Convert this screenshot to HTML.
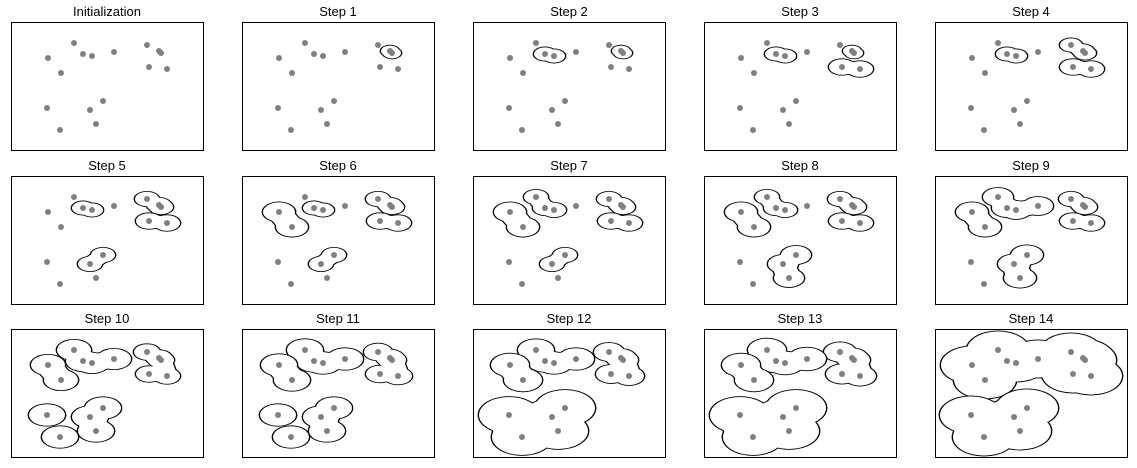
<!DOCTYPE html>
<html><head><meta charset="utf-8"><style>
body{margin:0;background:#fff;}
svg{display:block;font-family:"Liberation Sans","DejaVu Sans",sans-serif;}
</style></head><body>
<svg id="fig" width="1137" height="468" viewBox="0 0 1137 468"></svg>
<script>
// point coordinates (panel data units, 0..192 x 0..128)
const pointX = [37,63,72,81,103,136,148,150,138,156,50,36,79,92,49,85];
const pointY = [36,21,32,34,30,23,29,31,45,47,51,86,88,79,108,102];
const stepTitles = ["Initialization","Step 1","Step 2","Step 3","Step 4","Step 5","Step 6","Step 7","Step 8","Step 9","Step 10","Step 11","Step 12","Step 13","Step 14"];
// clusters per step: members, radius, connected
const stepClusters = [
 [],
 [[[6,7],9,1]],
 [[[6,7],9,1],[[2,3],11,1]],
 [[[6,7],9,1],[[2,3],11,1],[[8,9],13,1]],
 [[[5,6,7],11,1],[[8,9],13,1],[[2,3],11,1]],
 [[[5,6,7],12,1],[[8,9],13,1],[[2,3],11,1],[[12,13],12,1]],
 [[[5,6,7],12,1],[[8,9],13,1],[[2,3],11,1],[[12,13],12,1],[[0,10],16,1]],
 [[[5,6,7],12,1],[[8,9],13,1],[[1,2,3],12,1],[[12,13],12,1],[[0,10],16,1]],
 [[[5,6,7],12,1],[[8,9],13,1],[[1,2,3],12,1],[[12,13,15],15,1],[[0,10],16,1]],
 [[[5,6,7],12,1],[[8,9],13,1],[[1,2,3,4],15,1],[[12,13,15],16,1],[[0,10],16,1]],
 [[[5,6,7,8,9],13,1],[[1,2,3,4],17,1],[[0,10],17,1],[[12,13,15],18,1],[[11],18,0],[[14],18,0]],
 [[[5,6,7,8,9],14,1],[[1,2,3,4],18,1],[[0,10],18,1],[[12,13,15],18,1],[[11],18,0],[[14],18,0]],
 [[[5,6,7,8,9],15,1],[[1,2,3,4],18,1],[[0,10],19,1],[[11,12,13,14,15],30,1]],
 [[[5,6,7,8,9],16,1],[[1,2,3,4],19,1],[[0,10],19,1],[[11,12,13,14,15],30,1]],
 [[[0,1,2,3,4,5,6,7,8,9,10],31,1],[[11,12,13,14,15],31,1]]
];
const K=0.6;
const NS="http://www.w3.org/2000/svg";
const fig=document.getElementById('fig');
const panelX=[11,242,473,704,935], panelY=[22,176,329], PW=192, PH=128;
function mk(t,a,p){const e=document.createElementNS(NS,t);for(const k in a)e.setAttribute(k,a[k]);p.appendChild(e);return e;}
function mst(m){const edges=[];const inT=[m[0]];const rest=m.slice(1);
 while(rest.length){let best=null;for(const a of inT)for(const b of rest){const d=Math.hypot(pointX[a]-pointX[b],pointY[a]-pointY[b]);if(!best||d<best[2])best=[a,b,d];}
 edges.push(best);inT.push(best[1]);rest.splice(rest.indexOf(best[1]),1);}return edges;}
const defs=mk('defs',{},fig);
stepTitles.forEach((title,i)=>{
 const ox=panelX[i%5], oy=panelY[Math.floor(i/5)];
 const sx=v=>ox+v, sy=v=>oy+v;
 const cp=mk('clipPath',{id:'clip'+i},defs);
 mk('rect',{x:ox,y:oy,width:PW+1,height:PH+1},cp);
 const g=mk('g',{},fig);
 
 
 const t=mk('text',{x:ox+PW/2,y:oy-6,'text-anchor':'middle','font-size':13,fill:'#000'},g);
 t.textContent=title;
 
 
 const bg=mk('g',{'clip-path':'url(#clip'+i+')'},g);
 stepClusters[i].forEach((c)=>{
  const [m,r,conn]=c;
  const cy=sy(m.reduce((s,p)=>s+pointY[p],0)/m.length);
  const cg=mk('g',{transform:`translate(0,${cy}) scale(1,${K}) translate(0,${-cy})`},bg);
  
  
  const Y=p=>cy+(sy(pointY[p])-cy)/K;
  const edges=conn&&m.length>1?mst(m):[];
  [['#000',1.4],['#fff',0]].forEach(([col,ex])=>{
   m.forEach(p=>mk('circle',{cx:sx(pointX[p]),cy:Y(p),r:r+ex,fill:col},cg));
   edges.forEach(e=>mk('line',{x1:sx(pointX[e[0]]),y1:Y(e[0]),x2:sx(pointX[e[1]]),y2:Y(e[1]),stroke:col,'stroke-width':2*(r*0.8+ex),'stroke-linecap':'round'},cg));
  });
 });
 const fr=mk('rect',{x:ox+0.5,y:oy+0.5,width:PW,height:PH,fill:'none',stroke:'#000','stroke-width':1},g);
 
 
 pointX.forEach((px,k)=>{
  const c=mk('circle',{cx:sx(px),cy:sy(pointY[k]),r:3,fill:'#808080'},g);
  
  
 });
});
</script>
</body></html>
